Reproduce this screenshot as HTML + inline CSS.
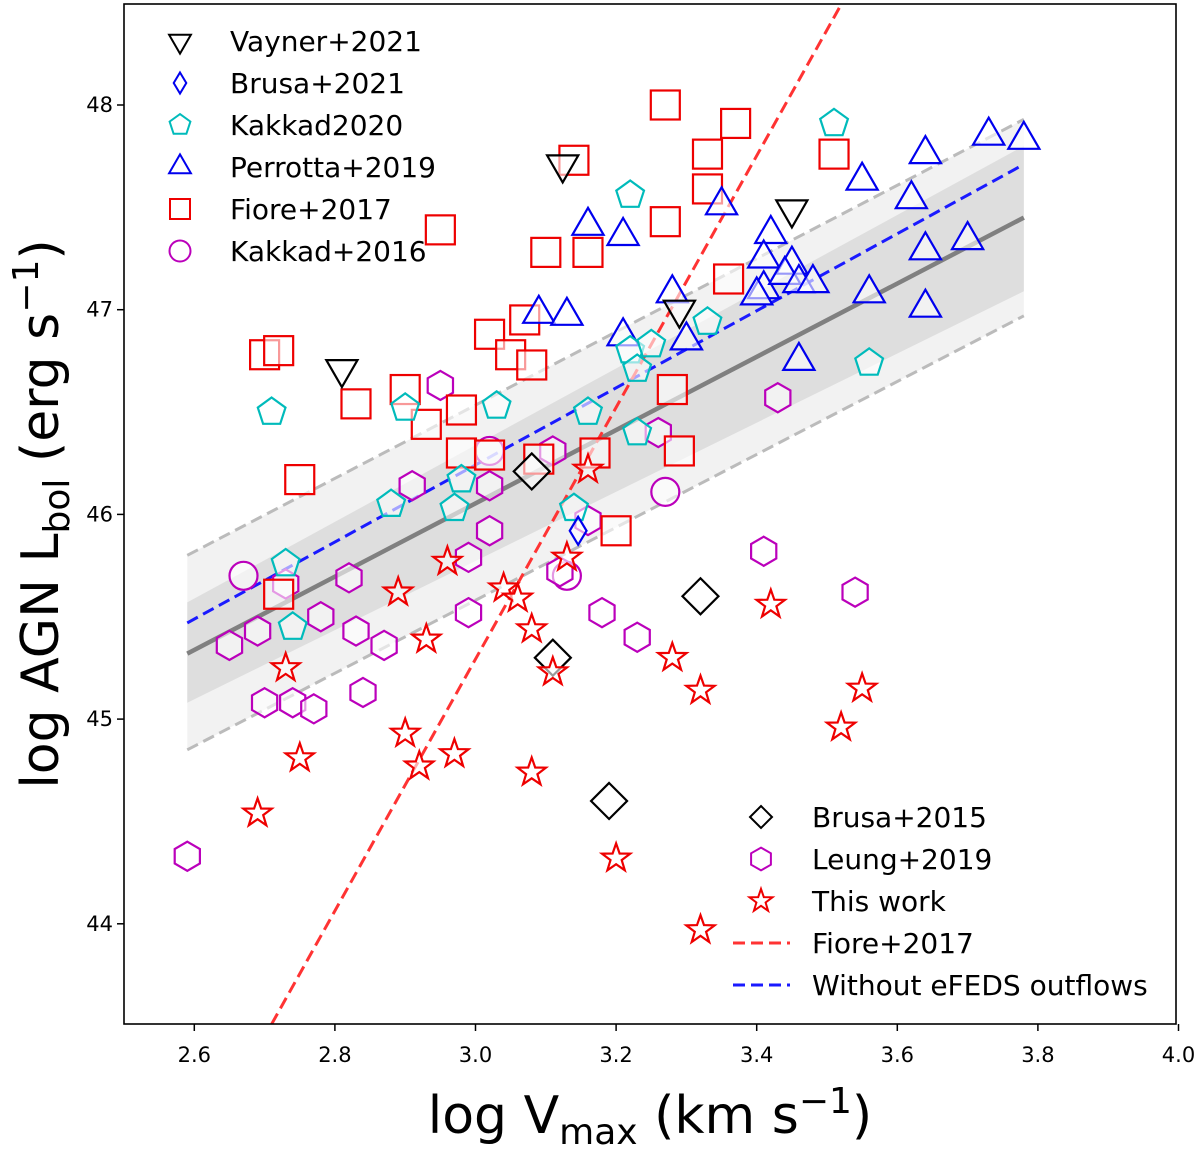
<!DOCTYPE html>
<html><head><meta charset="utf-8"><style>
html,body{margin:0;padding:0;background:#fff;}
svg text{font-family:"DejaVu Sans","Liberation Sans",sans-serif;}
</style></head><body>
<svg id="chart" width="1200" height="1149" xmlns="http://www.w3.org/2000/svg">
<defs><clipPath id="clip"><rect x="124" y="4" width="1052" height="1020"/></clipPath></defs>
<g id="bands" clip-path="url(#clip)"></g>
<g id="lines" clip-path="url(#clip)"></g>
<g id="marks" clip-path="url(#clip)"></g>
<rect x="124" y="4" width="1052" height="1020" fill="none" stroke="#000" stroke-width="1.6"/>
<g id="axes"></g>
<text x="650" y="1133" text-anchor="middle" font-size="52">log V<tspan font-size="36" dy="11">max</tspan><tspan dy="-11"> (km s</tspan><tspan font-size="36" dy="-20">−1</tspan><tspan dy="20">)</tspan></text>
<text transform="translate(58,514) rotate(-90)" text-anchor="middle" font-size="52">log AGN L<tspan font-size="36" dy="11">bol</tspan><tspan dy="-11"> (erg s</tspan><tspan font-size="36" dy="-20">−1</tspan><tspan dy="20">)</tspan></text>
<g id="legend"></g>
</svg>
<script>
const xTicks=[2.6,2.8,3.0,3.2,3.4,3.6,3.8,4.0];
const yTicks=[44,45,46,47,48];
const vaynerV=[3.124,2.81,3.29,3.45];
const vaynerL=[47.71,46.71,47.0,47.49];
const brusa21V=[3.146];
const brusa21L=[45.92];
const kakkad20V=[2.71,2.90,3.03,2.88,2.97,2.98,3.22,3.22,3.23,3.25,3.23,3.16,3.33,3.51,3.56,2.73,2.74,3.14];
const kakkad20L=[46.50,46.52,46.53,46.05,46.03,46.17,47.56,46.80,46.71,46.83,46.40,46.50,46.94,47.91,46.74,45.76,45.45,46.03];
const perrottaV=[3.16,3.21,3.09,3.13,3.28,3.30,3.21,3.35,3.42,3.41,3.41,3.45,3.44,3.46,3.48,3.40,3.46,3.55,3.56,3.62,3.64,3.64,3.64,3.70,3.73,3.78];
const perrottaL=[47.41,47.36,46.98,46.97,47.08,46.85,46.87,47.51,47.37,47.25,47.10,47.22,47.17,47.13,47.13,47.07,46.75,47.63,47.08,47.54,47.76,47.29,47.01,47.34,47.85,47.83];
const fioreV=[2.70,2.72,2.83,2.90,2.95,2.93,2.98,2.98,3.02,3.02,3.05,3.07,3.08,3.10,3.16,3.09,3.14,3.17,3.20,3.27,3.27,3.28,3.29,3.33,3.33,3.37,3.36,3.51,2.75,2.72];
const fioreL=[46.78,46.80,46.54,46.61,47.39,46.44,46.51,46.30,46.88,46.29,46.78,46.95,46.73,47.28,47.28,46.27,47.73,46.30,45.92,48.0,47.43,46.61,46.31,47.76,47.59,47.91,47.15,47.76,46.17,45.61];
const kakkad16V=[2.67,3.13,3.27,3.02];
const kakkad16L=[45.70,45.70,46.11,46.31];
const leungV=[2.59,2.65,2.69,2.70,2.74,2.77,2.78,2.82,2.83,2.87,2.84,2.91,2.95,2.99,2.99,3.02,3.02,3.11,3.12,3.16,3.18,3.23,3.26,3.43,3.41,3.54,2.73];
const leungL=[44.33,45.36,45.43,45.08,45.08,45.05,45.50,45.69,45.43,45.36,45.13,46.14,46.63,45.52,45.79,46.14,45.92,46.31,45.72,45.97,45.52,45.40,46.40,46.57,45.82,45.62,45.66];
const brusa15V=[3.08,3.11,3.32,3.19];
const brusa15L=[46.21,45.30,45.60,44.60];
const thisV=[2.89,2.96,2.93,2.73,2.75,2.69,2.90,2.92,2.97,3.04,3.06,3.08,3.11,3.13,3.16,3.08,3.20,3.28,3.32,3.42,3.32,3.52,3.55];
const thisL=[45.62,45.77,45.39,45.25,44.81,44.54,44.93,44.77,44.83,45.64,45.59,45.44,45.23,45.79,46.22,44.74,44.32,45.30,45.14,45.56,43.97,44.96,45.15];
const fitX=[2.59,3.78], fitY=[45.32,47.45];
const outerUp=[45.80,47.93], outerLo=[44.85,46.97];
const innerUp=[45.57,47.80], innerLo=[45.08,47.09];
const blueX=[2.59,3.78], blueY=[45.47,47.71];
const redX=[2.71,3.52], redY=[43.51,48.49];

const NS="http://www.w3.org/2000/svg";
const X=v=>124+(v-2.5)*703;
const Y=l=>105+(48-l)*204.7;
function mk(tag,attrs,parent){const e=document.createElementNS(NS,tag);for(const k in attrs)e.setAttribute(k,attrs[k]);parent.appendChild(e);return e;}
const bands=document.getElementById('bands'),lines=document.getElementById('lines'),marks=document.getElementById('marks'),axes=document.getElementById('axes'),legend=document.getElementById('legend');

function poly(up,lo){return `${X(fitX[0])},${Y(up[0])} ${X(fitX[1])},${Y(up[1])} ${X(fitX[1])},${Y(lo[1])} ${X(fitX[0])},${Y(lo[0])}`;}
let b1=mk('polygon',{points:poly(outerUp,outerLo),fill:'#f2f2f2'},bands);

let b2=mk('polygon',{points:poly(innerUp,innerLo),fill:'#dedede'},bands);

function line(xs,ys,st,name){const e=mk('line',Object.assign({x1:X(xs[0]),y1:Y(ys[0]),x2:X(xs[1]),y2:Y(ys[1])},st),lines);}
line(fitX,outerUp,{stroke:'#bbb','stroke-width':3,'stroke-dasharray':'12,6'},'upper-scatter-line');
line(fitX,outerLo,{stroke:'#bbb','stroke-width':3,'stroke-dasharray':'12,6'},'lower-scatter-line');
line(fitX,fitY,{stroke:'#808080','stroke-width':4.5},'best-fit-line');
line(blueX,blueY,{stroke:'#1a1aff','stroke-width':3,'stroke-dasharray':'12,6'},'without-efeds-line');
line(redX,redY,{stroke:'#ff3333','stroke-width':3,'stroke-dasharray':'12,6'},'fiore2017-relation-line');

function shape(type,cx,cy,s){
  const pts=(n,r,rot)=>{let a=[];for(let i=0;i<n;i++){const t=rot+i*2*Math.PI/n;a.push((cx+r*Math.cos(t)).toFixed(1)+','+(cy+r*Math.sin(t)).toFixed(1));}return a.join(' ');};
  switch(type){
    case 'tdown':return['polygon',{points:pts(3,s*0.6,Math.PI/2)}];
    case 'tup':return['polygon',{points:pts(3,s*0.6,-Math.PI/2)}];
    case 'pent':return['polygon',{points:pts(5,s*0.52,-Math.PI/2)}];
    case 'hex':return['polygon',{points:pts(6,s*0.52,-Math.PI/2)}];
    case 'sq':return['rect',{x:cx-s/2,y:cy-s/2,width:s,height:s}];
    case 'circ':return['circle',{cx:cx,cy:cy,r:s/2}];
    case 'dia':return['polygon',{points:`${cx},${cy-s/2} ${cx+s/2},${cy} ${cx},${cy+s/2} ${cx-s/2},${cy}`}];
    case 'thin':return['polygon',{points:`${cx},${cy-s/2} ${cx+s*0.3},${cy} ${cx},${cy+s/2} ${cx-s*0.3},${cy}`}];
    case 'star':{let a=[];for(let i=0;i<10;i++){const r=i%2?s*0.22:s*0.55;const t=-Math.PI/2+i*Math.PI/5;a.push((cx+r*Math.cos(t)).toFixed(1)+','+(cy+r*Math.sin(t)).toFixed(1));}return['polygon',{points:a.join(' ')}];}
  }
}
const series=[
 {n:'kakkad2016',v:kakkad16V,l:kakkad16L,t:'circ',c:'#bb00bb',s:28},
 {n:'leung2019',v:leungV,l:leungL,t:'hex',c:'#bb00bb',s:28},
 {n:'fiore2017',v:fioreV,l:fioreL,t:'sq',c:'#ee0000',s:29},
 {n:'perrotta2019',v:perrottaV,l:perrottaL,t:'tup',c:'#0000ee',s:30},
 {n:'kakkad2020',v:kakkad20V,l:kakkad20L,t:'pent',c:'#00bbbb',s:28},
 {n:'brusa2021',v:brusa21V,l:brusa21L,t:'thin',c:'#0000ee',s:28},
 {n:'vayner2021',v:vaynerV,l:vaynerL,t:'tdown',c:'#000',s:30},
 {n:'brusa2015',v:brusa15V,l:brusa15L,t:'dia',c:'#000',s:36},
 {n:'this-work',v:thisV,l:thisL,t:'star',c:'#ee0000',s:27},
];
series.forEach(se=>{se.v.forEach((v,i)=>{const [tag,a]=shape(se.t,X(v),Y(se.l[i]),se.s);
  a.fill='rgba(255,255,255,0.6)';a.stroke=se.c;a['stroke-width']=2.2;const e=mk(tag,a,marks);
  
  });});

xTicks.forEach(t=>{const x=X(t);mk('line',{x1:x,y1:1024,x2:x,y2:1031,stroke:'#000','stroke-width':1.5},axes);
  const e=mk('text',{x:x,y:1062,'text-anchor':'middle','font-size':21},axes);e.textContent=t.toFixed(1);
  
  });
yTicks.forEach(t=>{const y=Y(t);mk('line',{x1:117,y1:y,x2:124,y2:y,stroke:'#000','stroke-width':1.5},axes);
  const e=mk('text',{x:113,y:y+7,'text-anchor':'end','font-size':21},axes);e.textContent=t;
  
  });

const leg1=[['tdown','#000','Vayner+2021'],['thin','#0000ee','Brusa+2021'],['pent','#00bbbb','Kakkad2020'],['tup','#0000ee','Perrotta+2019'],['sq','#ee0000','Fiore+2017'],['circ','#bb00bb','Kakkad+2016']];
leg1.forEach((r,i)=>{const y=41+i*42;const [tag,a]=shape(r[0],180,y,r[0]=='sq'?20:21);a.fill='none';a.stroke=r[1];a['stroke-width']=2;mk(tag,a,legend);
  const e=mk('text',{x:230,y:y+10,'font-size':28},legend);e.textContent=r[2];
  
  });
const leg2=[['dia','#000','Brusa+2015'],['hex','#bb00bb','Leung+2019'],['star','#ee0000','This work']];
leg2.forEach((r,i)=>{const y=817+i*42;const [tag,a]=shape(r[0],761,y,22);a.fill='none';a.stroke=r[1];a['stroke-width']=2;mk(tag,a,legend);
  const e=mk('text',{x:812,y:y+10,'font-size':28},legend);e.textContent=r[2];
  
  });
[['#ff3333','Fiore+2017'],['#1a1aff','Without eFEDS outflows']].forEach((r,i)=>{const y=943+i*42;
  mk('line',{x1:733,y1:y,x2:790,y2:y,stroke:r[0],'stroke-width':3,'stroke-dasharray':'12,6'},legend);
  const e=mk('text',{x:812,y:y+10,'font-size':28},legend);e.textContent=r[1];
  
  });
</script>
</body></html>
